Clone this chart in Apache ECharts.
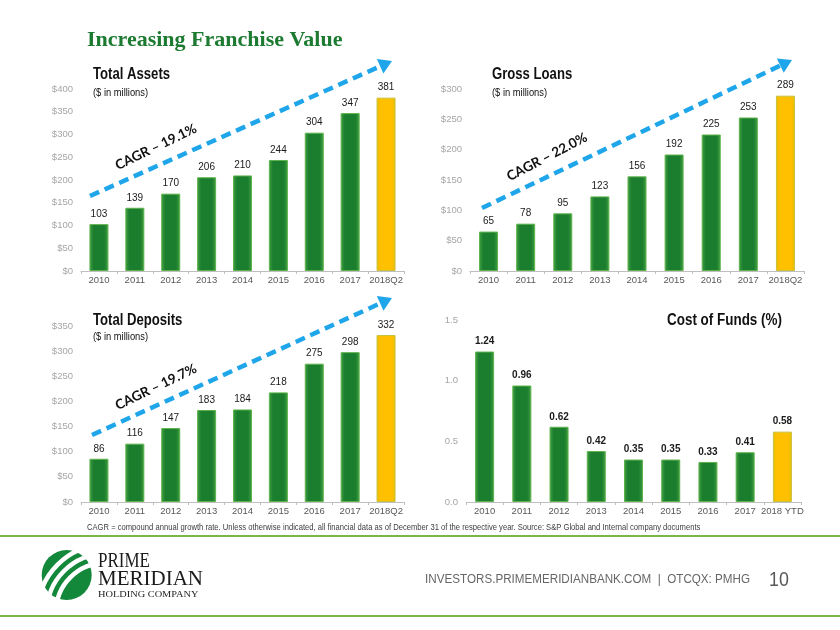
<!DOCTYPE html>
<html>
<head>
<meta charset="utf-8">
<script src="https://cdn.jsdelivr.net/npm/echarts@6/dist/echarts.min.js"></script>
<style>
html,body{margin:0;padding:0;background:#fff;}
#chart{width:840px;height:630px;}
</style>
</head>
<body>
<div id="chart"></div>
<script>
// ---- data ----
const years = ['2010','2011','2012','2013','2014','2015','2016','2017','2018Q2'];
const cofYears = ['2010','2011','2012','2013','2014','2015','2016','2017','2018 YTD'];
const totalAssets = [103,139,170,206,210,244,304,347,381];
const grossLoans = [65,78,95,123,156,192,225,253,289];
const totalDeposits = [86,116,147,183,184,218,275,298,332];
const costOfFunds = [1.24,0.96,0.62,0.42,0.35,0.35,0.33,0.41,0.58];
const cagrLabels = ['CAGR – 19.1%','CAGR – 22.0%','CAGR – 19.7%'];

const SANS = "'Liberation Sans',Arial,sans-serif";
const SERIF = "'Liberation Serif','Times New Roman',serif";

const green = {type:'linear',x:0,y:0,x2:1,y2:0,colorStops:[
  {offset:0,color:'#43a043'},{offset:0.22,color:'#1a7e2e'},{offset:0.78,color:'#1a7e2e'},{offset:1,color:'#43a043'}]};
const gold = {type:'linear',x:0,y:0,x2:1,y2:0,colorStops:[
  {offset:0,color:'#e9bd00'},{offset:0.22,color:'#ffc000'},{offset:0.78,color:'#ffc000'},{offset:1,color:'#e9bd00'}]};

function barData(vals){
  return vals.map((v,i)=> i===vals.length-1
    ? {value:v, itemStyle:{color:gold,borderColor:'#c7c13c',borderWidth:1}}
    : v);
}

const grids = [
  {left:81, right:436, top:89, bottom:359},
  {left:470, right:36, top:89, bottom:359},
  {left:81, right:436, top:326, bottom:128},
  {left:466, right:39, top:320, bottom:128}
];

function xAxisCfg(i, cats){
  return {type:'category', gridIndex:i, data:cats,
    axisLine:{lineStyle:{color:'#bfbfbf',width:1}},
    axisTick:{show:true,length:3,lineStyle:{color:'#bfbfbf'}},
    axisLabel:{color:'#595959',fontSize:9.5,fontFamily:SANS,margin:4,interval:0}};
}
function yAxisCfg(i, max, interval, fmt){
  return {type:'value', gridIndex:i, min:0, max:max, interval:interval,
    axisLine:{show:false}, axisTick:{show:false}, splitLine:{show:false},
    axisLabel:{color:'#a6a6a6',fontSize:9.5,fontFamily:SANS,margin:8,formatter:fmt}};
}
function seriesCfg(i, vals, fmt, weight){
  return {type:'bar', xAxisIndex:i, yAxisIndex:i, data:barData(vals), barWidth:19,
    itemStyle:{color:green,borderColor:'#5db24b',borderWidth:1},
    label:{show:true,position:'top',distance:5,color:'#1a1a1a',fontSize:10,fontWeight:weight,fontFamily:SANS,formatter:fmt},
    emphasis:{disabled:true}, animation:false};
}

function arrow(x1,y1,x2,y2){
  const dx=x2-x1, dy=y2-y1, L=Math.sqrt(dx*dx+dy*dy), ux=dx/L, uy=dy/L, nx=-uy, ny=ux;
  const bx=x2-ux*13, by=y2-uy*13;
  return [
    {type:'line',shape:{x1:x1,y1:y1,x2:bx,y2:by},style:{stroke:'#1fa6ea',lineWidth:4.5,lineDash:[10,6]},z:10},
    {type:'polygon',shape:{points:[[x2,y2],[bx+nx*8,by+ny*8],[bx-nx*8,by-ny*8]]},style:{fill:'#1fa6ea'},z:10}
  ];
}
function rotText(txt,cx,cy,ang){
  return {type:'text',x:cx,y:cy,rotation:ang,z:11,
    style:{text:txt,x:0,y:0,fontSize:13.5,fontWeight:'bold',fontFamily:"Lato,'Open Sans',sans-serif",fill:'#111',
      textAlign:'center',textVerticalAlign:'middle',verticalAlign:'middle'}};
}
function txt(t,x,y,opt){
  return {type:'text',x:x,y:y,z:12,scaleX:opt.sx||1,
    style:Object.assign({text:t,x:0,y:0,textAlign:'left',textVerticalAlign:'middle',verticalAlign:'middle'},opt.style)};
}

const graphics = [].concat(
  [txt('Increasing Franchise Value',87,40,{style:{fontSize:22,fontWeight:'bold',fontFamily:SERIF,fill:'#1d7a31'}})],
  [txt('Total Assets',93,75,{sx:0.82,style:{fontSize:16,fontWeight:'bold',fontFamily:SANS,fill:'#111'}})],
  [txt('($ in millions)',93,93,{sx:0.85,style:{fontSize:11,fontFamily:SANS,fill:'#111'}})],
  [txt('Gross Loans',492,75,{sx:0.82,style:{fontSize:16,fontWeight:'bold',fontFamily:SANS,fill:'#111'}})],
  [txt('($ in millions)',492,93,{sx:0.85,style:{fontSize:11,fontFamily:SANS,fill:'#111'}})],
  [txt('Total Deposits',93,321,{sx:0.82,style:{fontSize:16,fontWeight:'bold',fontFamily:SANS,fill:'#111'}})],
  [txt('($ in millions)',93,337,{sx:0.85,style:{fontSize:11,fontFamily:SANS,fill:'#111'}})],
  [txt('Cost of Funds (%)',667,321,{sx:0.84,style:{fontSize:16,fontWeight:'bold',fontFamily:SANS,fill:'#111'}})],
  arrow(90,196,392,61),
  arrow(482,208,792,60),
  arrow(92,435,392,298),
  [rotText(cagrLabels[0],156,147,0.45), rotText(cagrLabels[1],547,157,0.48), rotText(cagrLabels[2],156,387,0.45)],
  [txt('CAGR = compound annual growth rate. Unless otherwise indicated, all financial data as of December 31 of the respective year. Source: S&P Global and Internal company documents',87,528,{sx:0.847,style:{fontSize:9,fontFamily:SANS,fill:'#404040'}})],
  [{type:'rect',shape:{x:0,y:535,width:840,height:2},style:{fill:'#7ab648'}},
   {type:'rect',shape:{x:0,y:615,width:840,height:2},style:{fill:'#7ab648'}}],
  // logo
  [{type:'circle',shape:{cx:66.7,cy:575,r:25},style:{fill:'#13873a'}},
   {type:'arc',shape:{cx:105,cy:612,r:49,startAngle:Math.PI*1.0,endAngle:Math.PI*1.5},style:{stroke:'#fff',lineWidth:4.5,fill:null}},
   {type:'arc',shape:{cx:105,cy:612,r:58,startAngle:Math.PI*1.0,endAngle:Math.PI*1.5},style:{stroke:'#fff',lineWidth:4.5,fill:null}},
   {type:'arc',shape:{cx:105,cy:612,r:67,startAngle:Math.PI*1.0,endAngle:Math.PI*1.5},style:{stroke:'#fff',lineWidth:4.5,fill:null}},
   txt('PRIME',98,562,{sx:0.85,style:{fontSize:20,fontFamily:SERIF,fill:'#1a1a1a'}}),
   txt('MERIDIAN',98,580,{sx:1.05,style:{fontSize:20,fontFamily:SERIF,fill:'#1a1a1a'}}),
   txt('HOLDING COMPANY',98,595,{sx:1.15,style:{fontSize:9,fontFamily:SERIF,fill:'#1a1a1a'}})],
  [{type:'text',x:750,y:580,scaleX:0.97,z:12,style:{text:'INVESTORS.PRIMEMERIDIANBANK.COM  |  OTCQX: PMHG',x:0,y:0,fontSize:12,fontFamily:SANS,fill:'#666',textAlign:'right',textVerticalAlign:'middle',verticalAlign:'middle'}},
   txt('10',769,580,{sx:0.85,style:{fontSize:21,fontFamily:SANS,fill:'#595959'}})]
);

const chart = echarts.init(document.getElementById('chart'), null, {renderer:'canvas'});
chart.setOption({
  animation:false,
  backgroundColor:'#fff',
  grid:grids,
  xAxis:[xAxisCfg(0,years),xAxisCfg(1,years),xAxisCfg(2,years),xAxisCfg(3,cofYears)],
  yAxis:[
    yAxisCfg(0,400,50,v=>'$'+v),
    yAxisCfg(1,300,50,v=>'$'+v),
    yAxisCfg(2,350,50,v=>'$'+v),
    yAxisCfg(3,1.5,0.5,v=>v.toFixed(1))
  ],
  series:[
    seriesCfg(0,totalAssets,p=>p.value,'normal'),
    seriesCfg(1,grossLoans,p=>p.value,'normal'),
    seriesCfg(2,totalDeposits,p=>p.value,'normal'),
    seriesCfg(3,costOfFunds,p=>p.value.toFixed(2),'bold')
  ],
  graphic:graphics
});
</script>
</body>
</html>
